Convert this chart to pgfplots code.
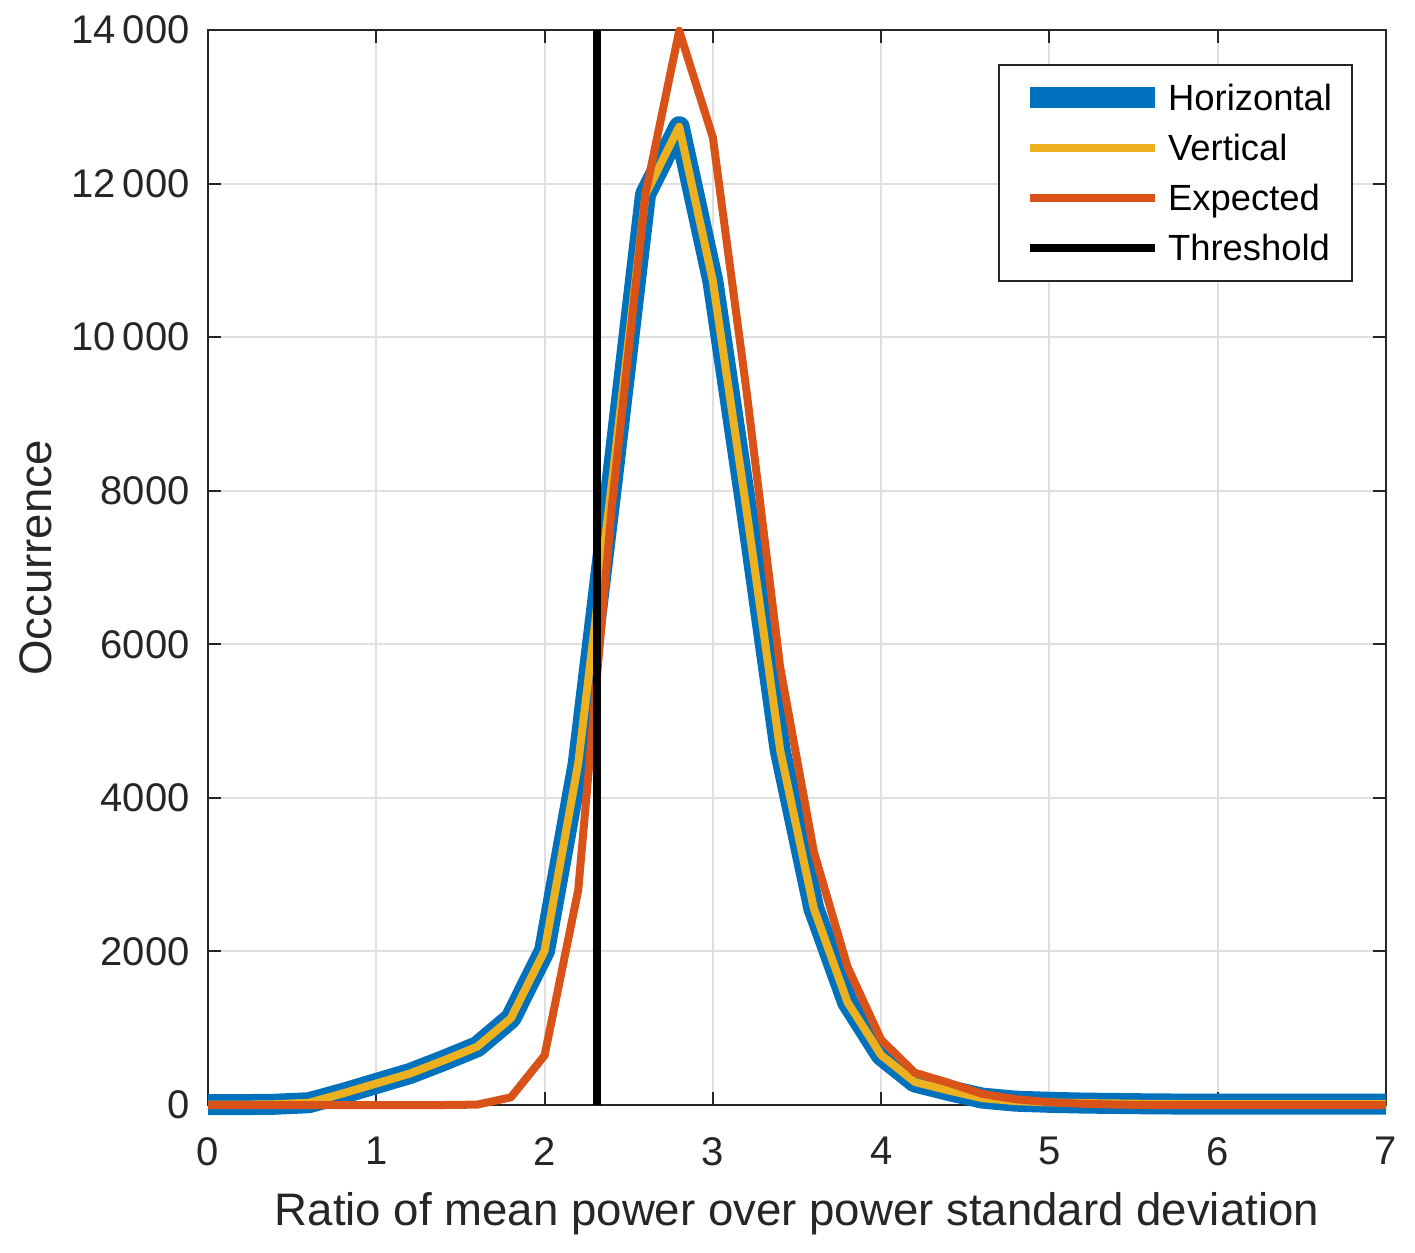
\documentclass[border=0pt]{standalone}
\usepackage{fontspec}
\setmainfont{Liberation Sans}
\usepackage{pgfplots}
\pgfplotsset{compat=1.18}
\definecolor{mblue}{rgb}{0,0.447,0.741}
\definecolor{myellow}{rgb}{0.929,0.694,0.125}
\definecolor{mred}{rgb}{0.850,0.325,0.098}
\definecolor{axgray}{rgb}{0.15,0.15,0.15}
\definecolor{gridgray}{rgb}{0.873,0.873,0.873}

\pgfplotstableread{
x y
0.0 5
0.2 5
0.4 10
0.6 30
0.8 150
1.0 280
1.2 410
1.4 580
1.6 760
1.8 1130
2.0 2010
2.2 4450
2.4 8100
2.6 11860
2.8 12740
3.0 10730
3.2 7750
3.4 4620
3.6 2560
3.8 1340
4.0 650
4.2 300
4.4 190
4.6 90
4.8 50
5.0 35
5.2 25
5.4 20
5.6 15
5.8 12
6.0 10
6.2 10
6.4 10
6.6 10
6.8 10
7.0 10
}\horiz

\pgfplotstableread{
x y
0.0 5
0.2 5
0.4 10
0.6 30
0.8 150
1.0 280
1.2 410
1.4 580
1.6 760
1.8 1130
2.0 2010
2.2 4450
2.4 8100
2.6 11860
2.8 12740
3.0 10730
3.2 7750
3.4 4620
3.6 2560
3.8 1340
4.0 650
4.2 300
4.4 190
4.6 90
4.8 50
5.0 35
5.2 25
5.4 20
5.6 15
5.8 12
6.0 10
6.2 10
6.4 10
6.6 10
6.8 10
7.0 10
}\vert

\pgfplotstableread{
x y
0.0 0
0.2 0
0.4 0
0.6 0
0.8 0
1.0 0
1.2 0
1.4 0
1.6 5
1.8 100
2.0 645
2.2 2800
2.4 7800
2.6 11870
2.8 13990
3.0 12600
3.2 9300
3.4 5700
3.6 3300
3.8 1800
4.0 850
4.2 420
4.4 290
4.6 145
4.8 75
5.0 37
5.2 15
5.4 5
5.6 0
5.8 0
6.0 0
6.2 0
6.4 0
6.6 0
6.8 0
7.0 0
}\expected

\begin{document}
\begin{tikzpicture}
\begin{axis}[
  scale only axis, width=589pt, height=537.5pt,
  xmin=0, xmax=7, ymin=0, ymax=14000,
  clip=false,
  xtick={0,1,2,3,4,5,6,7},
  xticklabels={0,1,2,3,4,5,6,7},
  ytick={0,2000,4000,6000,8000,10000,12000,14000},
  yticklabels={0,2000,4000,6000,8000,10\,000,12\,000,14\,000},
  tick align=inside, major tick length=6.5pt,
  every tick/.style={axgray, line width=1pt},
  axis line style={axgray, line width=1pt},
  grid=major, major grid style={gridgray, line width=1pt},
  tick label style={font=\fontsize{20}{24}\selectfont, text=axgray},
  xticklabel style={anchor=north, inner sep=0pt, yshift=-16pt},
  yticklabel style={anchor=east, inner sep=0pt, xshift=-9pt},
  label style={font=\fontsize{22.8}{27}\selectfont, text=axgray},
  xlabel={Ratio of mean power over power standard deviation},
  ylabel={Occurrence},
  xlabel style={at={(axis description cs:0.5,-0.11209)}, anchor=base},
  ylabel style={at={(axis description cs:-0.13277,0.5088)}, anchor=base},
  legend image code/.code={\draw[#1,/tikz/.search also={/pgfplots}] (0pt,0pt) -- (62.5pt,0pt);},
  legend cell align=left,
  legend style={at={(rel axis cs:0.97199,0.96837)}, anchor=north east,
    draw=axgray, line width=1pt, fill=white,
    font=\fontsize{18.2}{21}\selectfont, text=black,
    inner xsep=10pt, inner ysep=10pt,
    row sep=12pt, column sep=1.5pt,
    nodes={inner sep=0pt, text height=13pt, text depth=0pt}},
  legend entries={Horizontal,Vertical,Expected,Threshold},
]
\addplot[mblue, line width=10.5pt, line join=round] table[x=x,y=y] {\horiz};
\addplot[myellow, line width=4pt, line join=round] table[x=x,y=y] {\vert};
\addplot[mred, line width=4pt, line join=round] table[x=x,y=y] {\expected};
\addplot[black, line width=4pt] coordinates {(2.31,0) (2.31,14000)};
\end{axis}
\pgfresetboundingbox
\path[use as bounding box] ([xshift=-104pt,yshift=-73.5pt]current axis.south west) rectangle ([xshift=14.5pt,yshift=15pt]current axis.north east);
\end{tikzpicture}
\end{document}
